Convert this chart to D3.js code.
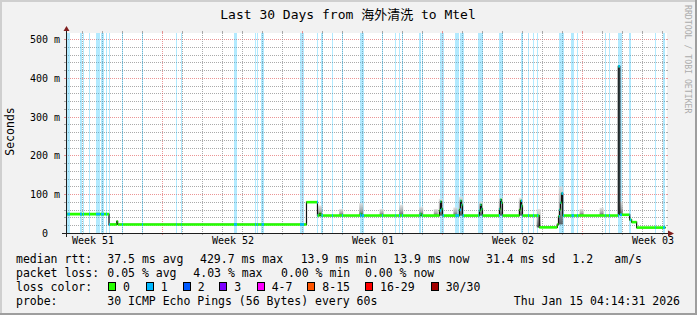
<!DOCTYPE html>
<html>
<head>
<meta charset="utf-8">
<script src="https://cdn.jsdelivr.net/npm/d3@7/dist/d3.min.js"></script>
<style>
  html, body { margin: 0; padding: 0; background: #f2f2f2; }
  svg { display: block; }
  text { font-family: "DejaVu Sans Mono", "Noto Sans CJK SC", monospace; fill: #000; }
</style>
</head>
<body>
<svg id="chart"></svg>
<script>
/*
 *  Data
 */
var parseTime = d3.utcParse("%Y-%m-%d %H:%M");

var title = "Last 30 Days from 海外清洗 to Mtel";
var graphStart = Date.UTC(2025, 11, 16, 4, 14, 31);
var graphEnd = Date.UTC(2026, 0, 15, 4, 14, 31);

// y axis (milliseconds, printed as "m" seconds)
var yMax = 515.5;
var yTickValues = [0, 100, 200, 300, 400, 500];
var yTickLabels = ["0\u00a0\u00a0", "100 m", "200 m", "300 m", "400 m", "500 m"];

// x axis labels sit in the middle of each week
var weekTickTimes = ["2025-12-17 12:00", "2025-12-24 12:00", "2025-12-31 12:00", "2026-01-07 12:00", "2026-01-14 12:00"];
var weekTickLabels = ["Week 51", "Week 52", "Week 01", "Week 02", "Week 03"];

// median rtt in ms, each value holds until the next time
var medianRtt = [
  ["2025-12-16 04:14", 48.7],
  ["2025-12-18 07:50", 22],
  ["2025-12-18 17:05", 30],
  ["2025-12-18 18:15", 22],
  ["2025-12-28 04:50", 79.5],
  ["2025-12-28 18:00", 45],
  ["2025-12-28 20:30", 50],
  ["2025-12-28 21:40", 45],
  ["2025-12-30 21:38", 49],
  ["2025-12-30 22:50", 45],
  ["2026-01-02 21:38", 49],
  ["2026-01-02 22:50", 45],
  ["2026-01-03 20:26", 58],
  ["2026-01-03 21:38", 81],
  ["2026-01-03 22:50", 62],
  ["2026-01-04 00:02", 45],
  ["2026-01-04 20:26", 60],
  ["2026-01-04 21:38", 83],
  ["2026-01-04 22:50", 72],
  ["2026-01-05 00:02", 45],
  ["2026-01-05 20:26", 58],
  ["2026-01-05 21:38", 73],
  ["2026-01-05 22:50", 62],
  ["2026-01-06 00:02", 45],
  ["2026-01-06 20:26", 62],
  ["2026-01-06 21:38", 86],
  ["2026-01-06 22:50", 78],
  ["2026-01-07 00:02", 45],
  ["2026-01-07 20:26", 60],
  ["2026-01-07 21:38", 83],
  ["2026-01-07 22:50", 70],
  ["2026-01-08 00:02", 45],
  ["2026-01-08 20:10", 14.5],
  ["2026-01-09 17:48", 22],
  ["2026-01-09 19:14", 43],
  ["2026-01-09 20:26", 60],
  ["2026-01-09 21:38", 78],
  ["2026-01-09 22:50", 102],
  ["2026-01-10 00:17", 45],
  ["2026-01-12 19:00", 429.7],
  ["2026-01-12 20:48", 47],
  ["2026-01-13 08:40", 34],
  ["2026-01-13 11:00", 28],
  ["2026-01-13 17:00", 14],
  ["2026-01-15 03:36", 13.9]
];

// periods with 1 of 30 pings lost
var lossBands = [
  ["2025-12-16 06:00", "2025-12-16 08:30"],
  ["2025-12-16 21:00", "2025-12-17 00:00"],
  ["2025-12-17 00:40", "2025-12-17 01:50"],
  ["2025-12-17 07:50", "2025-12-17 09:00"],
  ["2025-12-17 16:15", "2025-12-17 21:00"],
  ["2025-12-17 22:15", "2025-12-18 01:50"],
  ["2025-12-18 04:00", "2025-12-18 05:10"],
  ["2025-12-18 07:50", "2025-12-18 09:00"],
  ["2025-12-18 23:25", "2025-12-19 00:40"],
  ["2025-12-19 23:25", "2025-12-20 00:40"],
  ["2025-12-21 16:35", "2025-12-21 17:50"],
  ["2025-12-21 22:50", "2025-12-22 00:00"],
  ["2025-12-24 13:50", "2025-12-24 17:25"],
  ["2025-12-25 15:00", "2025-12-25 16:15"],
  ["2025-12-25 17:25", "2025-12-25 18:40"],
  ["2025-12-25 22:50", "2025-12-26 01:15"],
  ["2025-12-27 21:00", "2025-12-28 01:50"],
  ["2025-12-28 17:25", "2025-12-28 18:40"],
  ["2025-12-28 22:50", "2025-12-29 00:40"],
  ["2025-12-29 11:25", "2025-12-29 12:40"],
  ["2025-12-29 23:25", "2025-12-30 00:40"],
  ["2025-12-30 21:00", "2025-12-31 01:15"],
  ["2025-12-31 23:25", "2026-01-01 00:40"],
  ["2026-01-01 15:25", "2026-01-01 16:35"],
  ["2026-01-01 19:15", "2026-01-01 20:25"],
  ["2026-01-01 23:25", "2026-01-02 00:40"],
  ["2026-01-02 20:25", "2026-01-02 21:40"],
  ["2026-01-02 23:50", "2026-01-03 01:00"],
  ["2026-01-03 21:00", "2026-01-04 01:50"],
  ["2026-01-04 15:25", "2026-01-04 19:15"],
  ["2026-01-04 21:00", "2026-01-05 01:15"],
  ["2026-01-05 19:00", "2026-01-06 00:15"],
  ["2026-01-06 19:50", "2026-01-07 00:15"],
  ["2026-01-07 21:55", "2026-01-08 01:00"],
  ["2026-01-08 06:40", "2026-01-08 07:50"],
  ["2026-01-08 12:40", "2026-01-08 13:50"],
  ["2026-01-08 17:25", "2026-01-08 18:40"],
  ["2026-01-09 20:10", "2026-01-10 01:15"],
  ["2026-01-10 10:50", "2026-01-10 13:15"],
  ["2026-01-10 17:25", "2026-01-10 18:40"],
  ["2026-01-12 03:25", "2026-01-12 04:35"],
  ["2026-01-12 07:50", "2026-01-12 09:00"],
  ["2026-01-12 18:15", "2026-01-12 23:50"],
  ["2026-01-13 08:25", "2026-01-13 09:40"],
  ["2026-01-14 15:25", "2026-01-14 16:35"],
  ["2026-01-15 00:15", "2026-01-15 03:00"]
];

// smoke (ping spread) around the nightly bumps: time and top of spread in ms
var smokeTimes = ["2025-12-28 21:00", "2025-12-29 22:30", "2025-12-30 22:30", "2025-12-31 23:00",
  "2026-01-01 22:30", "2026-01-02 22:30", "2026-01-03 16:00", "2026-01-03 22:00", "2026-01-04 15:30",
  "2026-01-04 22:00", "2026-01-05 22:00", "2026-01-06 22:00", "2026-01-07 22:00", "2026-01-08 19:30",
  "2026-01-09 22:00", "2026-01-10 23:00", "2026-01-11 23:00", "2026-01-12 22:00"];
var smokeTops = [71, 62, 77, 62, 73, 68, 62, 88, 66, 93, 81, 91, 91, 62, 120, 62, 65, 81];

// legend
var rttLabel = "median rtt:";
var rttStats = ["37.5 ms avg", "429.7 ms max", "13.9 ms min", "13.9 ms now", "31.4 ms sd", "1.2", "am/s"];
var lossLabel = "packet loss:";
var lossStats = ["0.05 % avg", "4.03 % max", "0.00 % min", "0.00 % now"];
var lossColorLabel = "loss color:";
var lossClasses = ["0", "1", "2", "3", "4-7", "8-15", "16-29", "30/30"];
var lossClassColors = ["#26ff00", "#00b8ff", "#0059ff", "#7e00ff", "#ff00ff", "#ff5500", "#ff0000", "#a10000"];
var probeLabel = "probe:";
var probeText = "30 ICMP Echo Pings (56 Bytes) every 60s";
var stampText = "Thu Jan 15 04:14:31 2026";


/*
 *  Layout
 */
var width = 697, height = 315;
var plotLeft = 66, plotRight = 666, plotTop = 33, plotBottom = 233;

var gridColor = "rgba(143,143,143,0.75)";
var mgridColor = "rgba(222,79,79,0.6)";
var bandColor = "rgba(0,184,255,0.3)";

var x = d3.scaleUtc().domain([graphStart, graphEnd]).range([plotLeft, plotRight]);
var y = d3.scaleLinear().domain([0, yMax]).range([plotBottom, plotTop]);

function crisp(v) { return Math.round(v) + 0.5; }

var svg = d3.select("#chart")
  .attr("width", width)
  .attr("height", height);

// background and shaded frame
svg.append("rect").attr("width", width).attr("height", height).attr("fill", "#f2f2f2");
svg.append("rect").attr("x", 0).attr("y", 0).attr("width", width).attr("height", 2).attr("fill", "#cfcfcf");
svg.append("rect").attr("x", 0).attr("y", 0).attr("width", 2).attr("height", height).attr("fill", "#cfcfcf");
svg.append("rect").attr("x", 0).attr("y", height - 2).attr("width", width).attr("height", 2).attr("fill", "#9e9e9e");
svg.append("rect").attr("x", width - 2).attr("y", 0).attr("width", 2).attr("height", height).attr("fill", "#9e9e9e");

var defs = svg.append("defs");
var grad = defs.append("linearGradient").attr("id", "smoke")
  .attr("x1", 0).attr("y1", 0).attr("x2", 0).attr("y2", 1);
grad.append("stop").attr("offset", "0%").attr("stop-color", "#dedede");
grad.append("stop").attr("offset", "55%").attr("stop-color", "#a0a0a0");
grad.append("stop").attr("offset", "100%").attr("stop-color", "#404040");

// canvas
svg.append("rect")
  .attr("x", plotLeft).attr("y", plotTop)
  .attr("width", plotRight - plotLeft + 1).attr("height", plotBottom - plotTop)
  .attr("fill", "#ffffff");

var gridG = svg.append("g").attr("shape-rendering", "crispEdges");

// horizontal grid, minor every 20 m, major every 100 m
d3.range(0, yMax, 20).forEach(function(v) {
  if (v === 0) return;
  var major = v % 100 === 0;
  var yy = crisp(y(v));
  var col = major ? mgridColor : gridColor;
  gridG.append("line").attr("x1", plotLeft).attr("x2", plotRight).attr("y1", yy).attr("y2", yy)
    .attr("stroke", col).attr("stroke-dasharray", "1,1");
  gridG.append("line").attr("x1", plotLeft - 2).attr("x2", plotLeft).attr("y1", yy).attr("y2", yy).attr("stroke", col);
  gridG.append("line").attr("x1", plotRight).attr("x2", plotRight + 2).attr("y1", yy).attr("y2", yy).attr("stroke", col);
});

// vertical grid, minor every day, major every week
var sundays = d3.utcSunday.range(graphStart, graphEnd).map(Number);
d3.utcDay.range(graphStart, graphEnd).forEach(function(d) {
  var major = sundays.indexOf(+d) >= 0;
  var xx = crisp(x(d));
  var col = major ? mgridColor : gridColor;
  gridG.append("line").attr("x1", xx).attr("x2", xx).attr("y1", plotTop).attr("y2", plotBottom)
    .attr("stroke", col).attr("stroke-dasharray", "1,1");
  gridG.append("line").attr("x1", xx).attr("x2", xx).attr("y1", plotBottom).attr("y2", plotBottom + 2).attr("stroke", col);
  gridG.append("line").attr("x1", xx).attr("x2", xx).attr("y1", plotTop - 2).attr("y2", plotTop).attr("stroke", col);
});

// loss background
var bands = lossBands.map(function(b) { return [parseTime(b[0]), parseTime(b[1])]; });
svg.append("g").selectAll("rect")
  .data(bands)
  .enter().append("rect")
    .attr("x", function(d) { return Math.round(x(d[0])); })
    .attr("y", plotTop)
    .attr("width", function(d) { return Math.max(1, Math.round(x(d[1])) - Math.round(x(d[0]))); })
    .attr("height", plotBottom - plotTop)
    .attr("fill", bandColor);

// median series
var median = medianRtt.map(function(d) { return { t: parseTime(d[0]), v: d[1] }; });
var bisect = d3.bisector(function(d) { return d.t; }).right;
function medianAt(t) {
  var i = bisect(median, t) - 1;
  return median[Math.max(0, Math.min(median.length - 1, i))].v;
}

// smoke
var smoke = smokeTimes.map(function(s, i) { return { t: parseTime(s), top: smokeTops[i] }; });
svg.append("g").selectAll("rect")
  .data(smoke)
  .enter().append("rect")
    .attr("x", function(d) { return x(d.t) - 2; })
    .attr("width", 4)
    .attr("y", function(d) { return y(d.top); })
    .attr("height", function(d) {
      var base = Math.min(medianAt(d3.utcHour.offset(d.t, -3)), medianAt(d.t), medianAt(d3.utcHour.offset(d.t, 3)));
      return Math.max(0, y(base) - y(d.top));
    })
    .attr("fill", "url(#smoke)")
    .attr("opacity", 0.8);

// thin dark median line (shows the vertical steps)
var stepLine = d3.line()
  .x(function(d) { return x(d.t); })
  .y(function(d) { return y(d.v); })
  .curve(d3.curveStepAfter);
svg.append("path")
  .datum(median)
  .attr("d", stepLine)
  .attr("fill", "none")
  .attr("stroke", "#111")
  .attr("stroke-width", 1.2);

// loss coloured median pieces
var segs = median.slice(0, -1).map(function(d, i) {
  return { t0: d.t, t1: median[i + 1].t, v: d.v };
});
var medG = svg.append("g");
medG.selectAll("line.ok")
  .data(segs)
  .enter().append("line")
    .attr("class", "ok")
    .attr("x1", function(d) { return x(d.t0); })
    .attr("x2", function(d) { return x(d.t1); })
    .attr("y1", function(d) { return y(d.v); })
    .attr("y2", function(d) { return y(d.v); })
    .attr("stroke", lossClassColors[0])
    .attr("stroke-width", 2.6);

var lossPieces = [];
bands.forEach(function(b) {
  segs.forEach(function(s) {
    if (s.t1 > b[0] && s.t0 < b[1]) {
      lossPieces.push({ t0: s.t0 > b[0] ? s.t0 : b[0], t1: s.t1 < b[1] ? s.t1 : b[1], v: s.v });
    }
  });
});
medG.selectAll("line.loss")
  .data(lossPieces)
  .enter().append("line")
    .attr("class", "loss")
    .attr("x1", function(d) { return Math.max(x(d.t0), Math.round(x(d.t0))); })
    .attr("x2", function(d) { return Math.max(Math.round(x(d.t1)), Math.round(x(d.t0)) + 1); })
    .attr("y1", function(d) { return y(d.v); })
    .attr("y2", function(d) { return y(d.v); })
    .attr("stroke", lossClassColors[1])
    .attr("stroke-width", 2.6);

// axes
var axisG = svg.append("g").attr("shape-rendering", "crispEdges");
axisG.append("line").attr("x1", plotLeft - 4).attr("x2", plotRight + 4)
  .attr("y1", plotBottom + 0.5).attr("y2", plotBottom + 0.5).attr("stroke", "#1f1f1f");
axisG.append("line").attr("x1", plotLeft + 0.5).attr("x2", plotLeft + 0.5)
  .attr("y1", plotBottom + 4).attr("y2", plotTop - 4).attr("stroke", "#1f1f1f");
svg.append("path")
  .attr("d", "M" + (plotLeft - 2.5) + "," + (plotTop - 2) + "L" + (plotLeft + 3.5) + "," + (plotTop - 2) + "L" + (plotLeft + 0.5) + "," + (plotTop - 7) + "Z")
  .attr("fill", "#801f1f");
svg.append("path")
  .attr("d", "M" + (plotRight + 2) + "," + (plotBottom - 2.5) + "L" + (plotRight + 2) + "," + (plotBottom + 3.5) + "L" + (plotRight + 8) + "," + (plotBottom + 0.5) + "Z")
  .attr("fill", "#801f1f");

// y tick labels
var yAxis = d3.axisLeft(y)
  .tickValues(yTickValues)
  .tickFormat(function(d, i) { return yTickLabels[i]; })
  .tickSize(0)
  .tickPadding(6);
var yAxisG = svg.append("g")
  .attr("transform", "translate(" + plotLeft + ",0)")
  .call(yAxis);
yAxisG.select(".domain").remove();
yAxisG.selectAll("text")
  .attr("font-family", "DejaVu Sans Mono")
  .attr("font-size", 10)
  .attr("dy", "0.35em")
  .attr("fill", "#000");

// x tick labels
var xAxis = d3.axisBottom(x)
  .tickValues(weekTickTimes.map(parseTime))
  .tickFormat(function(d, i) { return weekTickLabels[i]; })
  .tickSize(0)
  .tickPadding(4);
var xAxisG = svg.append("g")
  .attr("transform", "translate(0," + plotBottom + ")")
  .call(xAxis);
xAxisG.select(".domain").remove();
xAxisG.selectAll("text")
  .attr("font-family", "DejaVu Sans Mono")
  .attr("font-size", 10)
  .attr("fill", "#000");

// title and side labels
svg.append("text")
  .attr("x", 348).attr("y", 19)
  .attr("text-anchor", "middle")
  .attr("font-size", 13)
  .text(title);

svg.append("text")
  .attr("transform", "translate(10,131.5) rotate(-90)")
  .attr("text-anchor", "middle")
  .attr("dominant-baseline", "central")
  .attr("font-size", 11.5)
  .text("Seconds");

svg.append("text")
  .attr("transform", "translate(687.5,5) rotate(90)")
  .attr("dominant-baseline", "central")
  .attr("font-size", 8.2)
  .style("fill", "#acacac")
  .text("RRDTOOL / TOBI OETIKER");

// legend
var legendX = 16;
var rowY = [263, 277, 291, 305];
var rttX = [107.3, 200, 300.7, 393.3, 486, 572.3, 614.3];
var lossX = [107.3, 193.3, 281, 365];
var boxX = [108, 145.7, 182.7, 219.3, 256.7, 307.3, 365, 430.7];

var legend = svg.append("g").attr("font-size", 11.5);
legend.append("text").attr("x", legendX).attr("y", rowY[0]).text(rttLabel);
legend.selectAll("text.rtt")
  .data(rttStats)
  .enter().append("text")
    .attr("class", "rtt")
    .attr("x", function(d, i) { return rttX[i]; })
    .attr("y", rowY[0])
    .text(function(d) { return d; });

legend.append("text").attr("x", legendX).attr("y", rowY[1]).text(lossLabel);
legend.selectAll("text.loss")
  .data(lossStats)
  .enter().append("text")
    .attr("class", "loss")
    .attr("x", function(d, i) { return lossX[i]; })
    .attr("y", rowY[1])
    .text(function(d) { return d; });

legend.append("text").attr("x", legendX).attr("y", rowY[2]).text(lossColorLabel);
legend.selectAll("rect.box")
  .data(lossClasses)
  .enter().append("rect")
    .attr("class", "box")
    .attr("x", function(d, i) { return Math.round(boxX[i]) + 0.5; })
    .attr("y", rowY[2] - 8.5)
    .attr("width", 7)
    .attr("height", 8)
    .attr("fill", function(d, i) { return lossClassColors[i]; })
    .attr("stroke", "#000")
    .attr("shape-rendering", "crispEdges");
legend.selectAll("text.cls")
  .data(lossClasses)
  .enter().append("text")
    .attr("class", "cls")
    .attr("x", function(d, i) { return boxX[i] + 15; })
    .attr("y", rowY[2])
    .text(function(d) { return d; });

legend.append("text").attr("x", legendX).attr("y", rowY[3]).text(probeLabel);
legend.append("text").attr("x", 107.3).attr("y", rowY[3]).text(probeText);
legend.append("text").attr("x", 680).attr("y", rowY[3]).attr("text-anchor", "end").text(stampText);
</script>
</body>
</html>
